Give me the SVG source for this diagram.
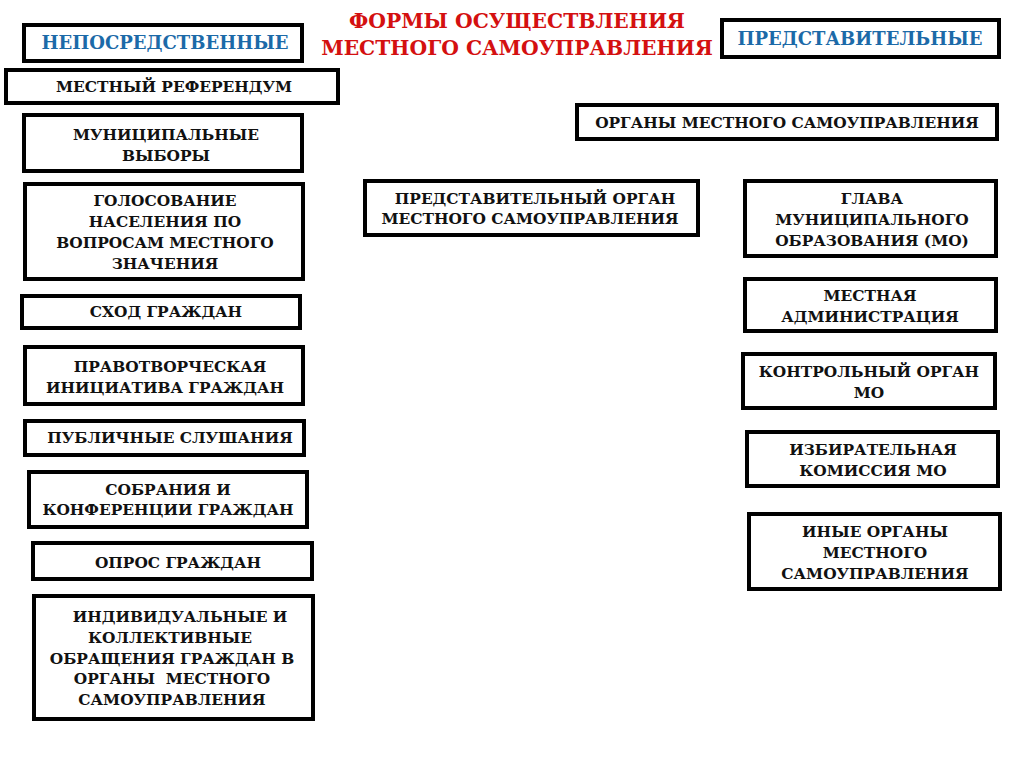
<svg xmlns="http://www.w3.org/2000/svg" width="1024" height="767" viewBox="0 0 1024 767">
<style>
.b{fill:#fff;stroke:#000;stroke-width:4}
.t{font-family:"DejaVu Serif","Liberation Serif",serif;font-weight:bold;font-size:15.4px;fill:#111;text-anchor:middle}
.h{font-family:"DejaVu Serif","Liberation Serif",serif;font-weight:bold;font-size:18px;fill:#1c6aa8;text-anchor:middle}
.r{font-family:"DejaVu Serif","Liberation Serif",serif;font-weight:bold;font-size:20.3px;fill:#d41010;text-anchor:middle}
</style>
<rect width="1024" height="767" fill="#fff"/>
<g id="title"><text class="r" x="517" y="28">ФОРМЫ ОСУЩЕСТВЛЕНИЯ</text><text class="r" x="517" y="55">МЕСТНОГО САМОУПРАВЛЕНИЯ</text></g>
<g id="direct"><rect class="b" x="24" y="25" width="278" height="36"/><text class="h" x="165" y="49">НЕПОСРЕДСТВЕННЫЕ</text></g>
<g id="referendum"><rect class="b" x="6" y="70" width="332" height="33"/><text class="t" x="174" y="92">МЕСТНЫЙ РЕФЕРЕНДУМ</text></g>
<g id="elections"><rect class="b" x="24" y="115" width="278" height="56"/><text class="t" x="166" y="140">МУНИЦИПАЛЬНЫЕ</text><text class="t" x="166" y="161">ВЫБОРЫ</text></g>
<g id="voting"><rect class="b" x="25" y="184" width="278" height="95"/><text class="t" x="165" y="206">ГОЛОСОВАНИЕ</text><text class="t" x="165" y="227">НАСЕЛЕНИЯ ПО</text><text class="t" x="165" y="248">ВОПРОСАМ МЕСТНОГО</text><text class="t" x="165" y="269">ЗНАЧЕНИЯ</text></g>
<g id="gathering"><rect class="b" x="22" y="296" width="278" height="32"/><text class="t" x="166" y="317">СХОД ГРАЖДАН</text></g>
<g id="initiative"><rect class="b" x="25" y="347" width="278" height="57"/><text class="t" x="170" y="372">ПРАВОТВОРЧЕСКАЯ</text><text class="t" x="165" y="393">ИНИЦИАТИВА ГРАЖДАН</text></g>
<g id="hearings"><rect class="b" x="25" y="421" width="279" height="34"/><text class="t" x="170" y="443">ПУБЛИЧНЫЕ СЛУШАНИЯ</text></g>
<g id="meetings"><rect class="b" x="29" y="472" width="278" height="55"/><text class="t" x="168" y="495">СОБРАНИЯ И</text><text class="t" x="168" y="515">КОНФЕРЕНЦИИ ГРАЖДАН</text></g>
<g id="poll"><rect class="b" x="33" y="543" width="279" height="36"/><text class="t" x="178" y="568">ОПРОС ГРАЖДАН</text></g>
<g id="appeals"><rect class="b" x="34" y="596" width="279" height="123"/><text class="t" x="180" y="622">ИНДИВИДУАЛЬНЫЕ И</text><text class="t" x="170" y="643">КОЛЛЕКТИВНЫЕ</text><text class="t" x="172" y="664">ОБРАЩЕНИЯ ГРАЖДАН В</text><text class="t" x="172" y="684" xml:space="preserve">ОРГАНЫ  МЕСТНОГО</text><text class="t" x="172" y="705">САМОУПРАВЛЕНИЯ</text></g>
<g id="representative"><rect class="b" x="722" y="20" width="277" height="37"/><text class="h" x="860" y="45">ПРЕДСТАВИТЕЛЬНЫЕ</text></g>
<g id="organs"><rect class="b" x="577" y="105" width="420" height="34"/><text class="t" x="787" y="128">ОРГАНЫ МЕСТНОГО САМОУПРАВЛЕНИЯ</text></g>
<g id="rep-organ"><rect class="b" x="365" y="181" width="333" height="54"/><text class="t" x="535" y="204">ПРЕДСТАВИТЕЛЬНЫЙ ОРГАН</text><text class="t" x="530" y="224">МЕСТНОГО САМОУПРАВЛЕНИЯ</text></g>
<g id="head"><rect class="b" x="745" y="181" width="251" height="75"/><text class="t" x="872" y="204">ГЛАВА</text><text class="t" x="872" y="225">МУНИЦИПАЛЬНОГО</text><text class="t" x="872" y="246">ОБРАЗОВАНИЯ (МО)</text></g>
<g id="admin"><rect class="b" x="745" y="279" width="251" height="52"/><text class="t" x="870" y="301">МЕСТНАЯ</text><text class="t" x="870" y="322">АДМИНИСТРАЦИЯ</text></g>
<g id="control"><rect class="b" x="743" y="354" width="252" height="54"/><text class="t" x="869" y="377">КОНТРОЛЬНЫЙ ОРГАН</text><text class="t" x="869" y="398">МО</text></g>
<g id="electoral"><rect class="b" x="747" y="432" width="251" height="54"/><text class="t" x="873" y="455">ИЗБИРАТЕЛЬНАЯ</text><text class="t" x="873" y="476">КОМИССИЯ МО</text></g>
<g id="other"><rect class="b" x="749" y="514" width="251" height="75"/><text class="t" x="875" y="537">ИНЫЕ ОРГАНЫ</text><text class="t" x="875" y="558">МЕСТНОГО</text><text class="t" x="875" y="579">САМОУПРАВЛЕНИЯ</text></g>
<g id="connectors"></g>
</svg>
